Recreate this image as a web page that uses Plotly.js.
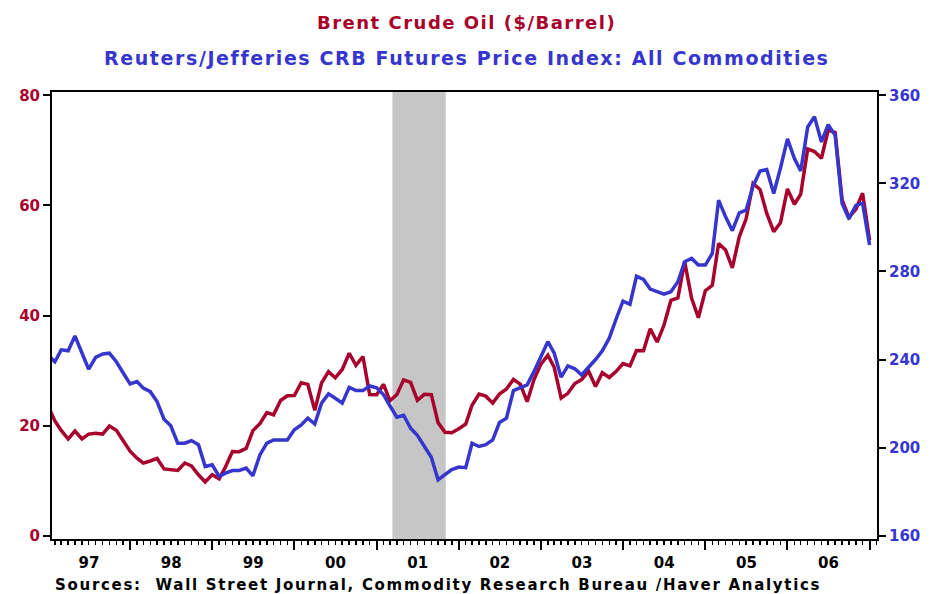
<!DOCTYPE html>
<html>
<head>
<meta charset="utf-8">
<script src="https://cdn.plot.ly/plotly-3.0.1.min.js"></script>
<style>
html,body{margin:0;padding:0;background:#fff;}
#chart{width:934px;height:594px;}
</style>
</head>
<body>
<div id="chart"></div>
<script>
// Monthly data, Jan 1997 .. Jan 2007
var startYear = 1997;
var startMonth = 1;

var brentCrude = [
  23.54, 20.85, 19.13, 17.56, 19.02, 17.58, 18.46, 18.60, 18.46, 19.92, 19.15, 17.13,
  15.34, 14.07, 13.18, 13.57, 14.04, 12.13, 12.02, 11.86, 13.21, 12.69, 11.06, 9.76,
  11.09, 10.33, 12.47, 15.30, 15.27, 15.85, 19.09, 20.35, 22.38, 21.95, 24.56, 25.41,
  25.45, 27.78, 27.49, 22.76, 27.74, 29.80, 28.68, 30.20, 33.14, 30.96, 32.55, 25.66,
  25.62, 27.50, 24.50, 25.66, 28.31, 27.85, 24.61, 25.68, 25.62, 20.54, 18.80, 18.71,
  19.42, 20.28, 23.70, 25.73, 25.35, 24.08, 25.74, 26.65, 28.40, 27.54, 24.34, 28.33,
  31.18, 32.77, 30.61, 25.00, 25.86, 27.65, 28.35, 29.89, 27.11, 29.61, 28.75, 29.81,
  31.28, 30.86, 33.63, 33.59, 37.57, 35.18, 38.22, 42.74, 43.20, 49.78, 43.11, 39.60,
  44.51, 45.48, 53.10, 51.88, 48.65, 54.35, 57.52, 63.98, 62.91, 58.54, 55.24, 56.86,
  62.99, 60.21, 62.06, 70.26, 69.78, 68.56, 73.67, 73.23, 61.00, 57.81, 59.30, 62.20,
  53.68
];

var crbIndex = [
  242.0, 239.0, 244.4, 244.0, 250.7, 243.0, 235.6, 241.0, 242.5, 242.9, 239.0, 234.0,
  228.9, 230.0, 227.0, 225.4, 220.9, 212.9, 209.9, 202.0, 202.0, 203.2, 201.3, 191.4,
  192.2, 186.9, 188.4, 189.6, 189.6, 190.7, 187.2, 196.7, 202.0, 203.5, 203.5, 203.5,
  208.1, 210.3, 213.4, 210.7, 220.2, 224.4, 222.4, 220.2, 227.4, 225.9, 225.9, 228.0,
  227.2, 224.0, 219.0, 213.8, 214.7, 208.8, 205.6, 200.5, 195.6, 185.4, 187.8, 190.0,
  191.2, 190.9, 202.0, 200.5, 201.3, 203.5, 211.4, 213.4, 225.9, 227.0, 228.5, 234.5,
  241.0, 248.1, 243.0, 232.0, 237.1, 235.8, 233.0, 236.5, 240.0, 244.0, 249.7, 258.3,
  266.5, 265.1, 277.8, 276.4, 272.0, 270.8, 269.7, 270.8, 275.3, 284.4, 285.9, 282.9,
  282.9, 288.2, 312.4, 304.8, 298.5, 306.6, 307.8, 318.7, 325.6, 326.3, 315.4, 327.0,
  340.2, 331.3, 325.6, 345.6, 350.3, 338.8, 346.7, 341.8, 310.8, 303.9, 310.0, 311.0,
  292.0
];

var yearTickFormat = '%y';
var leftTicks = [0, 20, 40, 60, 80];
var rightTicks = [160, 200, 240, 280, 320, 360];
var recession = ['2001-03-12', '2001-11-04'];

var titleLine1 = 'Brent Crude Oil ($/Barrel)';
var titleLine2 = 'Reuters/Jefferies CRB Futures Price Index: All Commodities';
var sourceText = 'Sources:  Wall Street Journal, Commodity Research Bureau /Haver Analytics';

function monthDates(n) {
  var out = [];
  for (var i = 0; i < n; i++) {
    var y = startYear + Math.floor((startMonth - 1 + i) / 12);
    var m = ((startMonth - 1 + i) % 12) + 1;
    out.push(y + '-' + (m < 10 ? '0' + m : m) + '-01');
  }
  return out;
}
function spaced(txt, px) {
  return '<span style="letter-spacing:' + px + 'px">' + txt.replace(/  /g, '&nbsp; ') + '</span>';
}

var dates = monthDates(brentCrude.length);

var RED = '#a8002c';
var BLUE = '#3636cf';
var FONT = 'DejaVu Sans, Arial, sans-serif';

var traces = [
  {
    x: dates, y: crbIndex, yaxis: 'y2', type: 'scatter', mode: 'lines',
    line: {color: BLUE, width: 3.5}, hoverinfo: 'skip', name: 'CRB'
  },
  {
    x: dates, y: brentCrude, yaxis: 'y', type: 'scatter', mode: 'lines',
    line: {color: RED, width: 3.5}, hoverinfo: 'skip', name: 'Brent'
  }
];

var layout = {
  width: 934, height: 594,
  margin: {l: 52, r: 56.5, t: 92, b: 54.5, pad: 0},
  paper_bgcolor: '#ffffff', plot_bgcolor: '#ffffff',
  showlegend: false,
  xaxis: {
    type: 'date',
    range: ['1997-01-19', '2007-02-03'],
    tick0: '1997-01-01', dtick: 'M12',
    ticklabelmode: 'period',
    tickformat: yearTickFormat,
    ticks: 'outside', ticklen: 9, tickwidth: 2, tickcolor: '#000',
    minor: {dtick: 'M1', ticks: 'outside', ticklen: 4, tickwidth: 1.5, tickcolor: '#000', showgrid: false},
    showgrid: false, zeroline: false,
    showline: true, linecolor: '#000', linewidth: 2, mirror: true,
    tickfont: {family: FONT, size: 15, color: '#000', weight: 'bold'}
  },
  yaxis: {
    range: [-0.6, 80.6],
    tickvals: leftTicks,
    ticks: 'outside', ticklen: 7, tickwidth: 2, tickcolor: '#000',
    showgrid: false, zeroline: false,
    showline: true, linecolor: '#000', linewidth: 2,
    tickfont: {family: FONT, size: 15, color: RED, weight: 'bold'}
  },
  yaxis2: {
    overlaying: 'y', side: 'right',
    range: [158.5, 361.5],
    tickvals: rightTicks,
    ticks: 'outside', ticklen: 7, tickwidth: 2, tickcolor: '#000',
    showgrid: false, zeroline: false,
    showline: true, linecolor: '#000', linewidth: 2,
    tickfont: {family: FONT, size: 15, color: BLUE, weight: 'bold'}
  },
  shapes: [
    {
      type: 'rect', xref: 'x', yref: 'paper',
      x0: recession[0], x1: recession[1], y0: 0, y1: 1,
      fillcolor: '#c6c6c6', line: {width: 0}, layer: 'below'
    }
  ],
  annotations: [
    {
      text: spaced(titleLine1, 1.5), xref: 'paper', yref: 'paper', x: 0.5027, y: 1.1564,
      xanchor: 'center', yanchor: 'middle', showarrow: false,
      font: {family: FONT, size: 18, color: RED, weight: 'bold'}
    },
    {
      text: spaced(titleLine2, 1.6), xref: 'paper', yref: 'paper', x: 0.5027, y: 1.076,
      xanchor: 'center', yanchor: 'middle', showarrow: false,
      font: {family: FONT, size: 19, color: BLUE, weight: 'bold'}
    },
    {
      text: spaced(sourceText, 1.7), xref: 'paper', yref: 'paper', x: 0.001, y: -0.104,
      xanchor: 'left', yanchor: 'middle', showarrow: false,
      font: {family: FONT, size: 15, color: '#000', weight: 'bold'}
    }
  ]
};

Plotly.newPlot('chart', traces, layout, {staticPlot: true, displayModeBar: false});
</script>
</body>
</html>
